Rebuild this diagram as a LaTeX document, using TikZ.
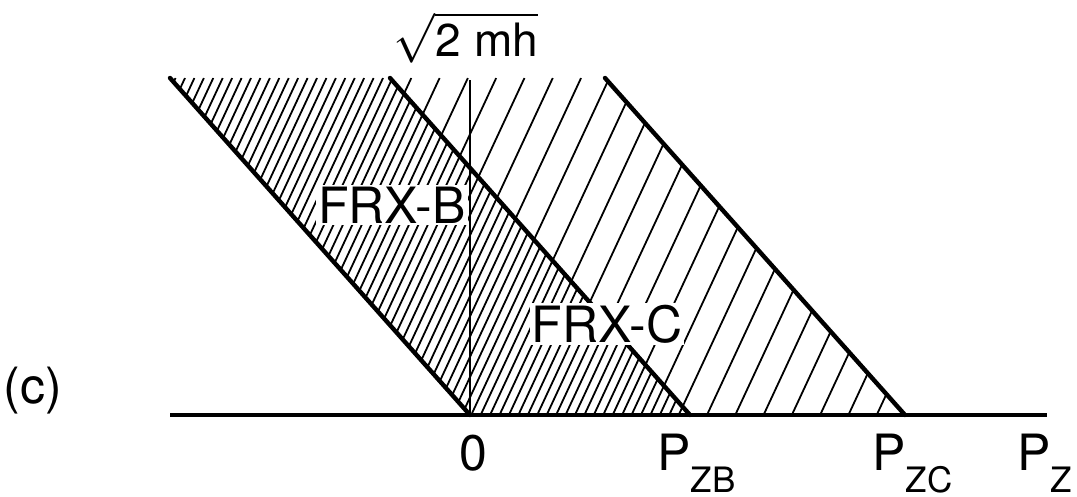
\documentclass[tikz,border=0pt]{standalone}
\usepackage{fontspec}
\setmainfont{TeX Gyre Heros}
\usetikzlibrary{positioning}
\newcommand{\lowsub}[1]{\raisebox{-11pt}{\fontsize{17.5}{20}\selectfont #1}}
\tikzset{
  bound/.style={line width=2.2pt,line cap=round},
  hatch/.style={line width=0.9pt},
  axisline/.style={line width=1.6pt},
  lbl/.style={font=\fontsize{25}{30}\selectfont,inner sep=1pt}
}

\begin{document}
\begin{tikzpicture}[x=0.5pt,y=-0.5pt]
\useasboundingbox (0,0) rectangle (1077,497);
\coordinate (O) at (470,415);
\coordinate (zb) at (690,415);
\coordinate (zc) at (905,415);
% FRX-B band, dense hatching
\begin{scope}
\clip (170,78)--(390,78)--(zb)--(O)--cycle;
\foreach \k in {-5,...,75}{\draw[hatch] (185+9.43*\k,78)--++(-157,337);}
\end{scope}
% FRX-C band, every third line
\begin{scope}
\clip (390,78)--(605,78)--(zc)--(zb)--cycle;
\foreach \k in {0,...,30}{\draw[hatch] (185+28.29*\k,78)--++(-157,337);}
\end{scope}
\draw[bound] (O)--++(-300,-337);
\draw[bound] (zb)--++(-300,-337);
\draw[bound] (zc)--++(-300,-337);
\node[lbl,fill=white] (frxb) at (392,205) {FRX-B};
\node[lbl,fill=white] (frxc) at (607,324) {FRX-C};
\draw[hatch] (O)--(470,80);
\draw[axisline] (170,415)--(1047,415);
\node[lbl,font=\fontsize{23}{26}\selectfont,anchor=base,inner sep=0pt] (root) at (466,57) {$\sqrt{\mbox{2\hspace{0.3em}mh}}$};
\node[lbl] (tag) at (33,391) {(c)};
\node[lbl,anchor=base] (zero) at (473,470) {0};
\node[lbl,anchor=base west,inner sep=0pt] (pzb) at (657,470) {P\lowsub{ZB}};
\node[lbl,anchor=base west,inner sep=0pt] (pzc) at (872,470) {P\lowsub{ZC}};
\node[lbl,anchor=base west,inner sep=0pt] (pz) at (1017,470) {P\lowsub{Z}};
\end{tikzpicture}
\end{document}
